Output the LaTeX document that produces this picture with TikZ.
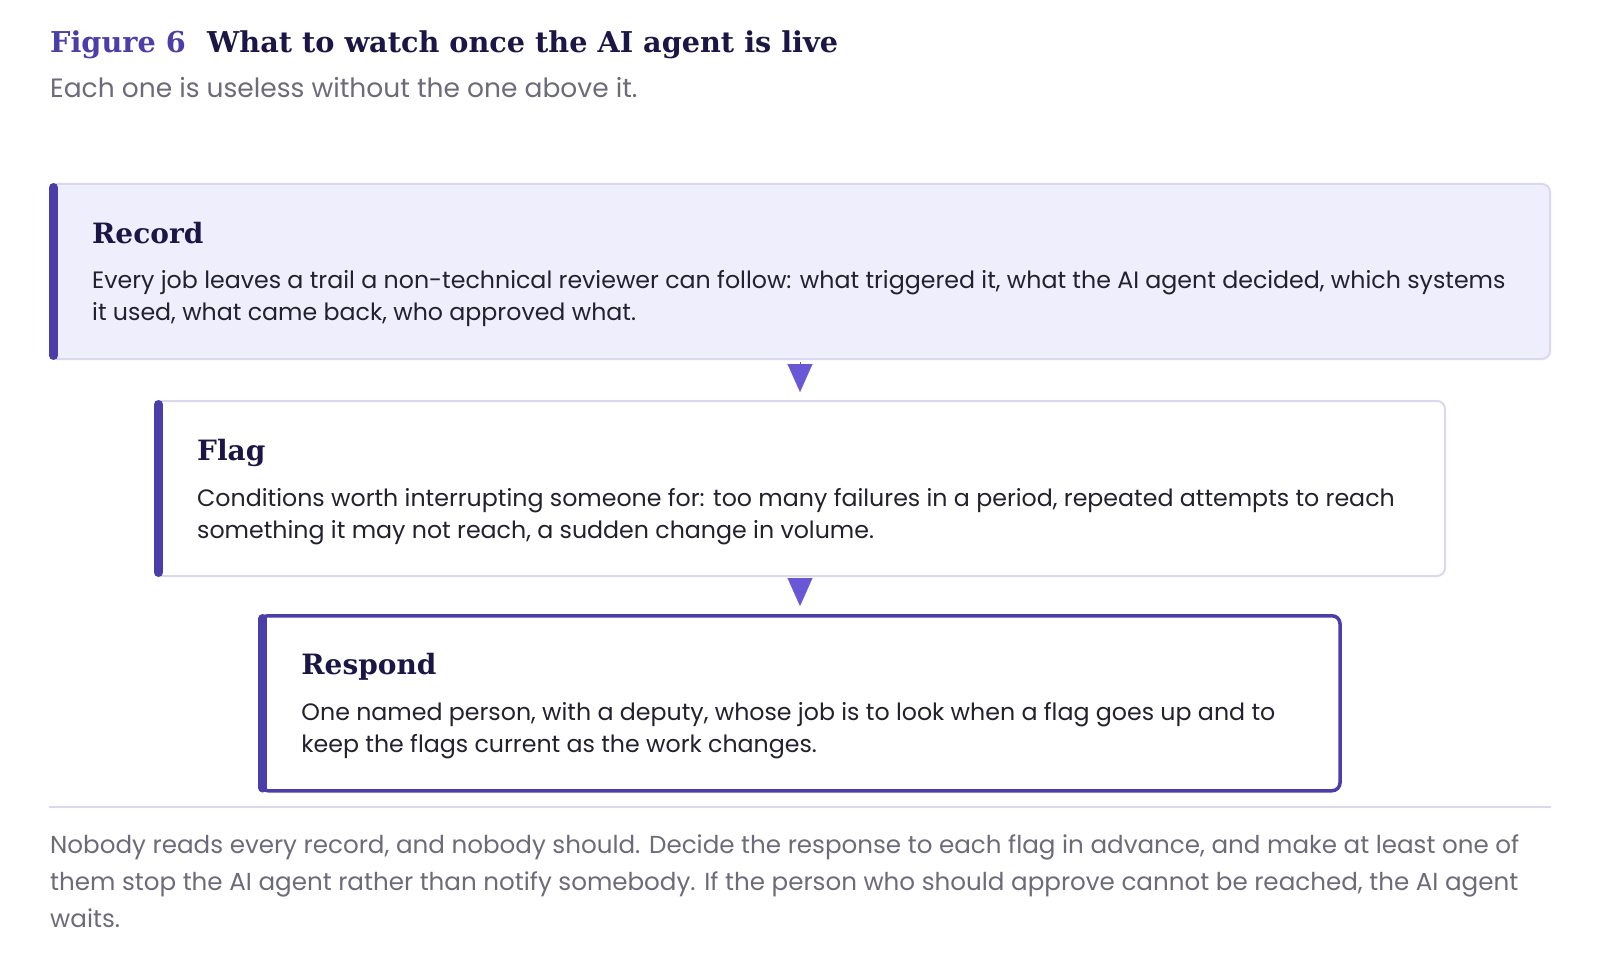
\documentclass[tikz,border=0pt]{standalone}
\usepackage{fontspec}
\setmainfont{Poppins}
\newfontfamily\headserif{DejaVu Serif}
\usepackage{tikz}
\usetikzlibrary{positioning, arrows.meta}
\definecolor{indigo}{HTML}{4B3EA9}
\definecolor{navy}{HTML}{1B1646}
\definecolor{greytext}{HTML}{6C6B7A}
\definecolor{inktext}{HTML}{22212E}
\definecolor{lavfill}{HTML}{EFEEFC}
\definecolor{lavline}{HTML}{DAD7EF}
\definecolor{tipcol}{HTML}{6A57D5}

\begin{document}
\begin{tikzpicture}[x=1pt, y=-1pt,
  stage/.style={rectangle, rounded corners=8pt, minimum width=#1,
                minimum height=175pt, line width=2pt, inner sep=0pt},
  head/.style={anchor=base west, inner sep=0pt, text=navy,
               font=\headserif\bfseries\fontsize{28}{28}\selectfont},
  body/.style={anchor=base west, inner sep=0pt, align=left, text=inktext,
               font=\fontsize{23.7}{32}\selectfont},
  bar/.style={indigo, line width=9pt, line cap=round},
  downtip/.style={draw=tipcol, line width=0.1pt, shorten >=8pt, shorten <=2pt,
                  -{Triangle[width=25pt, length=28pt, fill=tipcol]}}]
\useasboundingbox (0,0) rectangle (1600,960);

% title and subtitle
\node[anchor=base west, inner sep=0pt, text=indigo,
      font=\headserif\bfseries\fontsize{28.7}{28.7}\selectfont] (fignum) at (50,53) {Figure 6};
\node[anchor=base west, inner sep=0pt, text=navy,
      font=\headserif\bfseries\fontsize{28.7}{28.7}\selectfont] (figtitle) at (207,53) {What to watch once the AI agent is live};
\node[anchor=base west, inner sep=0pt, text=greytext,
      font=\fontsize{26.5}{26.5}\selectfont] (figsub) at (50,98) {Each one is useless without the one above it.};

% the three stages
\node[stage=1500pt, fill=lavfill, draw=lavline] (record) at (800,271.5) {};
\node[stage=1290pt, fill=white, draw=lavline, below=40pt of record] (flag) {};
\node[stage=1080pt, fill=white, draw=indigo, line width=3.5pt, below=37pt of flag] (respond) {};

\foreach \s in {record, flag, respond}
  \draw[bar] ([xshift=4.5pt, yshift=-4.5pt]\s.north west) -- ([xshift=4.5pt, yshift=4.5pt]\s.south west);

\node[head] (recordhead) at ([xshift=43pt, yshift=-60pt]record.north west) {Record};
\node[body] (recordtext) at ([xshift=43pt, yshift=-137pt]record.north west)
  {Every job leaves a trail a non-technical reviewer can follow: what triggered it, what the AI agent decided, which systems\\
   it used, what came back, who approved what.};

\node[head] (flaghead) at ([xshift=43pt, yshift=-60pt]flag.north west) {Flag};
\node[body] (flagtext) at ([xshift=43pt, yshift=-138pt]flag.north west)
  {Conditions worth interrupting someone for: too many failures in a period, repeated attempts to reach\\
   something it may not reach, a sudden change in volume.};

\node[head] (respondhead) at ([xshift=43pt, yshift=-60pt]respond.north west) {Respond};
\node[body] (respondtext) at ([xshift=43pt, yshift=-138pt]respond.north west)
  {One named person, with a deputy, whose job is to look when a flag goes up and to\\
   keep the flags current as the work changes.};

\draw[downtip] (record.south) -- (flag.north);
\draw[downtip] (flag.south) -- (respond.north);

% rule and footnote
\draw[lavline, line width=2pt] (49,807) -- (1551,807);
\node[anchor=base west, inner sep=0pt, align=left, text=greytext,
      font=\fontsize{24.6}{37}\selectfont] (footnote) at (50,927)
  {Nobody reads every record, and nobody should. Decide the response to each flag in advance, and make at least one of\\
   them stop the AI agent rather than notify somebody. If the person who should approve cannot be reached, the AI agent\\
   waits.};
\end{tikzpicture}
\end{document}
